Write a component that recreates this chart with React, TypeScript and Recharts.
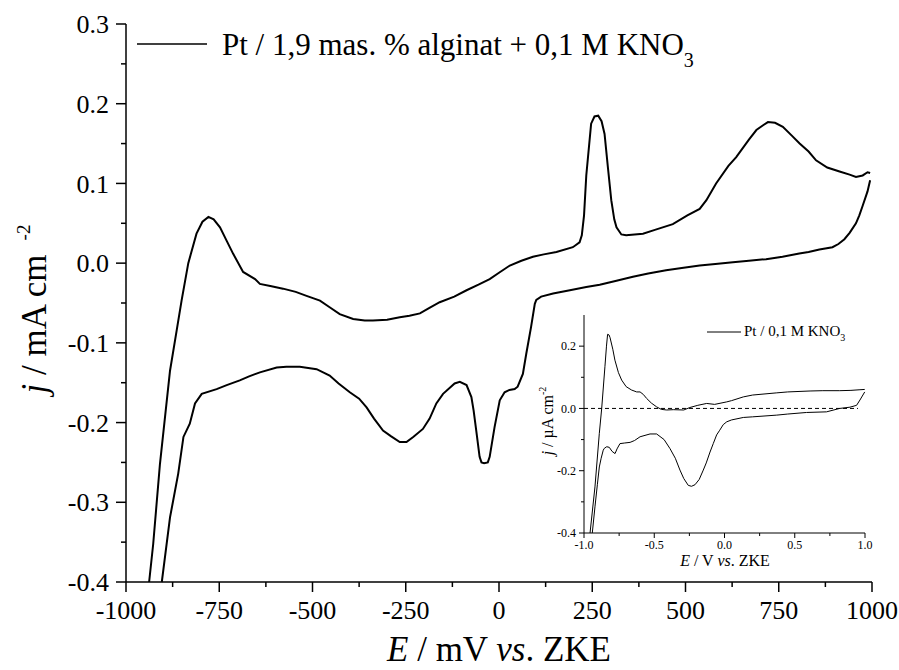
import { LineChart, Line, XAxis, YAxis, ReferenceLine } from "recharts";

const FONT = "Liberation Serif";

// main CV, Pt / 1,9 mas.% alginat + 0,1 M KNO3 (E in mV, j in mA cm-2)
const anodicE = [
  -938, -927, -909, -882, -864, -851, -833, -811, -795, -779, -765, -748, -730, -713, -686, -654,
  -641, -610, -579, -545, -516, -480, -455, -427, -391, -360, -338, -300, -266, -240, -212, -190,
  -159, -120, -87, -55, -25, 0, 29, 60, 91, 120, 154, 198, 216, 222, 228, 234, 247, 256, 266, 275,
  283, 292, 301, 309, 315, 328, 341, 386, 420, 466, 505, 538, 556, 582, 615, 636, 670, 690, 708,
  721, 740, 761, 785, 806, 830, 850, 880, 913, 940, 957, 975, 988, 995,
];
const anodicJ = [
  -0.4, -0.352, -0.252, -0.135, -0.084, -0.047, 0.0, 0.037, 0.052, 0.058, 0.055, 0.045, 0.028, 0.012,
  -0.011, -0.02, -0.026, -0.029, -0.032, -0.036, -0.041, -0.047, -0.055, -0.064, -0.07, -0.072,
  -0.072, -0.071, -0.068, -0.066, -0.063, -0.057, -0.049, -0.042, -0.034, -0.027, -0.02, -0.012,
  -0.003, 0.003, 0.008, 0.011, 0.014, 0.02, 0.026, 0.035, 0.06, 0.11, 0.175, 0.184, 0.185, 0.178,
  0.162, 0.12, 0.079, 0.055, 0.045, 0.036, 0.035, 0.037, 0.042, 0.049, 0.06, 0.068, 0.079, 0.1,
  0.122, 0.133, 0.155, 0.167, 0.173, 0.177, 0.176, 0.171, 0.16, 0.15, 0.14, 0.129, 0.12, 0.115,
  0.111, 0.108, 0.11, 0.114, 0.113,
];
const cathodicE = [
  995, 988, 975, 966, 957, 940, 926, 910, 894, 859, 830, 805, 760, 716, 670, 627, 580, 538, 490,
  448, 400, 359, 315, 270, 234, 190, 145, 113, 100, 96, 86, 73, 64, 50, 42, 28, 15, 2, -12, -25,
  -30, -40, -47, -52, -61, -68, -74, -87, -105, -119, -150, -168, -186, -204, -230, -248, -266,
  -290, -311, -335, -355, -375, -400, -430, -454, -489, -534, -570, -596, -641, -670, -695, -730,
  -757, -797, -815, -829, -846, -860, -882, -904,
];
const cathodicJ = [
  0.104, 0.09, 0.072, 0.06, 0.05, 0.038, 0.03, 0.024, 0.02, 0.017, 0.014, 0.012, 0.008, 0.005,
  0.003, 0.001, -0.001, -0.003, -0.006, -0.009, -0.013, -0.017, -0.022, -0.027, -0.03, -0.034,
  -0.038, -0.042, -0.046, -0.051, -0.08, -0.114, -0.139, -0.155, -0.158, -0.159, -0.162, -0.172,
  -0.206, -0.243, -0.25, -0.251, -0.25, -0.243, -0.21, -0.185, -0.168, -0.153, -0.149, -0.151,
  -0.164, -0.176, -0.195, -0.208, -0.218, -0.2245, -0.2245, -0.217, -0.21, -0.195, -0.181, -0.17,
  -0.162, -0.151, -0.141, -0.133, -0.13, -0.13, -0.131, -0.137, -0.142, -0.147, -0.153, -0.158,
  -0.164, -0.176, -0.2015, -0.218, -0.264, -0.319, -0.4,
];

// inset CV, Pt / 0,1 M KNO3 (E in V, j in µA cm-2)
const insetAnodicE = [
  -0.957, -0.922, -0.891, -0.874, -0.851, -0.84, -0.832, -0.822, -0.815, -0.795, -0.78, -0.755,
  -0.732, -0.7, -0.661, -0.625, -0.601, -0.578, -0.554, -0.52, -0.483, -0.45, -0.412, -0.364,
  -0.29, -0.246, -0.19, -0.127, -0.07, 0.016, 0.05, 0.134, 0.2, 0.372, 0.45, 0.609, 0.7, 0.82,
  0.9, 0.964, 0.998,
];
const insetAnodicJ = [
  -0.4, -0.252, -0.08, 0.0, 0.134, 0.2, 0.238, 0.236, 0.228, 0.19, 0.155, 0.115, 0.091, 0.07, 0.059,
  0.053, 0.053, 0.045, 0.032, 0.017, 0.005, -0.003, -0.005, -0.004, -0.005, 0.003, 0.01, 0.016,
  0.013, 0.021, 0.025, 0.037, 0.043, 0.05, 0.053, 0.056, 0.057, 0.057, 0.058, 0.06, 0.061,
];
const insetCathodicE = [
  0.998, 0.964, 0.94, 0.893, 0.82, 0.726, 0.584, 0.45, 0.372, 0.2, 0.134, 0.05, 0.016, -0.009,
  -0.034, -0.056, -0.08, -0.103, -0.13, -0.151, -0.18, -0.21, -0.235, -0.258, -0.29, -0.317,
  -0.35, -0.388, -0.43, -0.483, -0.53, -0.601, -0.64, -0.672, -0.71, -0.744, -0.765, -0.779,
  -0.8, -0.82, -0.838, -0.855, -0.863, -0.878, -0.891, -0.905, -0.922, -0.941,
];
const insetCathodicJ = [
  0.053, 0.027, 0.01, 0.004, 0.0, -0.011, -0.013, -0.018, -0.0215, -0.027, -0.029, -0.037, -0.043,
  -0.052, -0.07, -0.085, -0.113, -0.14, -0.175, -0.198, -0.228, -0.245, -0.25, -0.247, -0.225,
  -0.198, -0.16, -0.129, -0.1, -0.082, -0.082, -0.091, -0.103, -0.109, -0.111, -0.113, -0.13,
  -0.145, -0.138, -0.125, -0.123, -0.128, -0.134, -0.16, -0.188, -0.245, -0.316, -0.4,
];

const mainXTicks = [
  -1000, -875, -750, -625, -500, -375, -250, -125, 0, 125, 250, 375, 500, 625, 750, 875, 1000,
];
const mainYTicks = [
  -0.4, -0.35, -0.3, -0.25, -0.2, -0.15, -0.1, -0.05, 0, 0.05, 0.1, 0.15, 0.2, 0.25, 0.3,
];
const insetXTicks = [-1, -0.75, -0.5, -0.25, 0, 0.25, 0.5, 0.75, 1];
const insetYTicks = [-0.4, -0.3, -0.2, -0.1, 0, 0.1, 0.2];

const zip = (xs: number[], ys: number[]) => xs.map((E, i) => ({ E, j: ys[i] }));

// layout of the main chart
const W = 899;
const H = 670;
const Y_AXIS_W = 126;
const X_AXIS_H = 88;
const AXIS_Y = H - X_AXIS_H;

// layout of the inset
const IN_LEFT = 480;
const IN_TOP = 300;
const IN_W = 400;
const IN_H = 275;
const IN_Y_AXIS_W = 104;
const IN_X_AXIS_H = 42;
const IN_AXIS_Y = IN_H - IN_X_AXIS_H;

const txt = { fontFamily: FONT, fill: "#000" };

const isMult = (v: number, step: number) => Math.abs(v / step - Math.round(v / step)) < 1e-6;

const MainXTick = ({ x, payload }: any) => {
  const major = isMult(payload.value, 250);
  return (
    <g>
      <line x1={x} x2={x} y1={AXIS_Y} y2={AXIS_Y + (major ? 10 : 5)} stroke="#000" strokeWidth={1.5} />
      {major && (
        <text x={x} y={AXIS_Y + 19} dy="0.71em" textAnchor="middle" fontSize={26} style={txt}>
          {String(payload.value)}
        </text>
      )}
    </g>
  );
};

const MainYTick = ({ y, payload }: any) => {
  const major = isMult(payload.value, 0.1);
  return (
    <g>
      <line x1={Y_AXIS_W - (major ? 10 : 5)} x2={Y_AXIS_W} y1={y} y2={y} stroke="#000" strokeWidth={1.5} />
      {major && (
        <text x={Y_AXIS_W - 17} y={y} dy="0.35em" textAnchor="end" fontSize={26} style={txt}>
          {payload.value.toFixed(1)}
        </text>
      )}
    </g>
  );
};

const InsetXTick = ({ x, payload }: any) => {
  const major = isMult(payload.value, 0.5);
  return (
    <g>
      <line x1={x} x2={x} y1={IN_AXIS_Y} y2={IN_AXIS_Y + (major ? 5 : 3)} stroke="#000" strokeWidth={1} />
      {major && (
        <text x={x} y={IN_AXIS_Y + 7} dy="0.71em" textAnchor="middle" fontSize={12} style={txt}>
          {payload.value.toFixed(1)}
        </text>
      )}
    </g>
  );
};

const InsetYTick = ({ y, payload }: any) => {
  const major = isMult(payload.value, 0.2);
  return (
    <g>
      <line x1={IN_Y_AXIS_W - (major ? 5 : 3)} x2={IN_Y_AXIS_W} y1={y} y2={y} stroke="#000" strokeWidth={1} />
      {major && (
        <text x={IN_Y_AXIS_W - 8} y={y} dy="0.35em" textAnchor="end" fontSize={12} style={txt}>
          {payload.value.toFixed(1)}
        </text>
      )}
    </g>
  );
};

// axis titles + legend, drawn as svg text
const MainXTitle = () => (
  <g>
    <text x={499} y={661} textAnchor="middle" fontSize={35} style={txt}>
      <tspan fontStyle="italic">E</tspan> / mV <tspan fontStyle="italic">vs</tspan>. ZKE
    </text>
    <line x1={137} x2={207} y1={44} y2={44} stroke="#000" strokeWidth={1.5} />
    <text x={222} y={55} fontSize={31} style={txt}>
      Pt / 1,9 mas. % alginat + 0,1 M KNO<tspan dy={12} fontSize={20}>3</tspan>
    </text>
  </g>
);

const MainYTitle = () => (
  <text transform="translate(46,309) rotate(-90)" textAnchor="middle" fontSize={35} style={txt}>
    <tspan fontStyle="italic">j</tspan> / mA cm<tspan dx={14} dy={-16} fontSize={19}>-2</tspan>
  </text>
);

const InsetXTitle = () => (
  <g>
    <text x={245} y={266} textAnchor="middle" fontSize={16} style={txt}>
      <tspan fontStyle="italic">E</tspan> / V <tspan fontStyle="italic">vs</tspan>. ZKE
    </text>
    <line x1={227} x2={261} y1={32} y2={32} stroke="#000" strokeWidth={1} />
    <text x={264} y={36} fontSize={15} style={txt}>
      Pt / 0,1 M KNO<tspan dy={5} fontSize={10}>3</tspan>
    </text>
  </g>
);

const InsetYTitle = () => (
  <text transform="translate(73,121) rotate(-90)" textAnchor="middle" fontSize={16} style={txt}>
    <tspan fontStyle="italic">j</tspan> / µA cm<tspan dy={-7} fontSize={10}>-2</tspan>
  </text>
);

export default function App() {
  return (
    <div style={{ position: "absolute", left: 0, top: 0, width: W, height: H, background: "#fff", fontFamily: FONT }}>
      <LineChart width={W} height={H} margin={{ top: 24, right: 27, left: 0, bottom: 0 }}>
        <XAxis
          type="number" dataKey="E" domain={[-1000, 1000]} ticks={mainXTicks} interval={0}
          height={X_AXIS_H} tickLine={false} tick={<MainXTick />}
          axisLine={{ stroke: "#000", strokeWidth: 1.5 }} label={<MainXTitle />}
        />
        <YAxis
          type="number" domain={[-0.4, 0.3]} ticks={mainYTicks} interval={0}
          width={Y_AXIS_W} tickLine={false} tick={<MainYTick />}
          axisLine={{ stroke: "#000", strokeWidth: 1.5 }} label={<MainYTitle />}
        />
        <Line data={zip(anodicE, anodicJ)} dataKey="j" type="linear" stroke="#000" strokeWidth={2} dot={false} isAnimationActive={false} />
        <Line data={zip(cathodicE, cathodicJ)} dataKey="j" type="linear" stroke="#000" strokeWidth={2} dot={false} isAnimationActive={false} />
      </LineChart>

      <div style={{ position: "absolute", left: IN_LEFT, top: IN_TOP }}>
        <LineChart width={IN_W} height={IN_H} margin={{ top: 15, right: 15, left: 0, bottom: 0 }}>
          <XAxis
            type="number" dataKey="E" domain={[-1, 1]} ticks={insetXTicks} interval={0}
            height={IN_X_AXIS_H} tickLine={false} tick={<InsetXTick />}
            axisLine={{ stroke: "#000", strokeWidth: 1 }} label={<InsetXTitle />}
          />
          <YAxis
            type="number" domain={[-0.4, 0.3]} ticks={insetYTicks} interval={0}
            width={IN_Y_AXIS_W} tickLine={false} tick={<InsetYTick />}
            axisLine={{ stroke: "#000", strokeWidth: 1 }} label={<InsetYTitle />}
          />
          <ReferenceLine segment={[{ x: -1, y: 0 }, { x: 0.95, y: 0 }]} stroke="#000" strokeWidth={1} strokeDasharray="4 3" />
          <Line data={zip(insetAnodicE, insetAnodicJ)} dataKey="j" type="linear" stroke="#000" strokeWidth={1} dot={false} isAnimationActive={false} />
          <Line data={zip(insetCathodicE, insetCathodicJ)} dataKey="j" type="linear" stroke="#000" strokeWidth={1} dot={false} isAnimationActive={false} />
        </LineChart>
      </div>
    </div>
  );
}
